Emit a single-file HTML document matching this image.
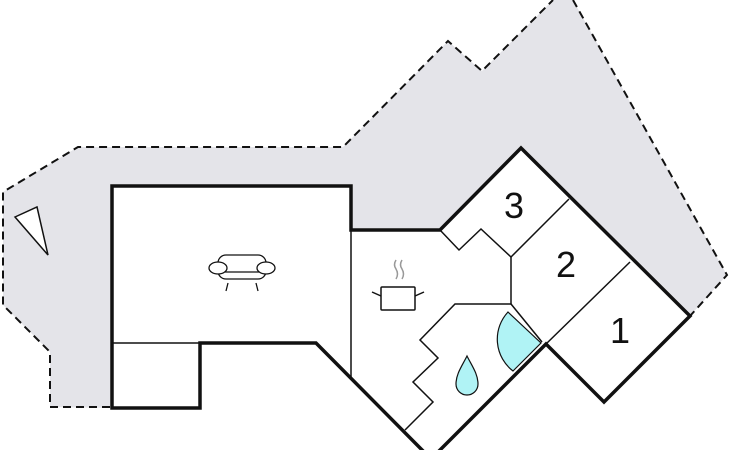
<!DOCTYPE html>
<html><head><meta charset="utf-8"><style>
html,body{margin:0;padding:0;background:#fff;width:730px;height:450px;overflow:hidden}
svg{display:block}
text{font-family:"Liberation Sans",sans-serif;font-size:36px;fill:#111}
</style></head><body>
<svg width="730" height="450" viewBox="0 0 730 450" xmlns="http://www.w3.org/2000/svg">
<polygon points="78,147 343,147 448,41 482,71 553,0 573,0 727,275 690,316 521,148 440,230 351,230 351,186 112,186 112,408 50,407 50,352 3,305 3,192" fill="#e4e4e9"/>
<polyline points="110,407 50,407 50,352 3,305 3,192 78,147 343,147 448,41 482,71 553,0" fill="none" stroke="#111" stroke-width="2" stroke-dasharray="8,5"/>
<polyline points="573,0 727,275 690,316" fill="none" stroke="#111" stroke-width="2" stroke-dasharray="8,5"/>
<polygon points="15,217 37,207 48,255" fill="#fff" stroke="#111" stroke-width="1.5"/>
<polygon points="112,186 351,186 351,230 440,230 521,148 690,316 604,402 546,344 431,459 316,343 200,343 200,408 112,408" fill="#fff"/>
<g fill="none" stroke="#111" stroke-width="1.5">
<line x1="112" y1="343" x2="200" y2="343"/>
<line x1="351" y1="230" x2="351" y2="378"/>
<polyline points="440,230 459,250 481,229 511,257 569,199"/>
<polyline points="511,257 511,304 455,304 420,340 438,358 413,382 433,402 405,430"/>
<line x1="511" y1="304" x2="542" y2="342"/>
<line x1="630" y1="262" x2="546" y2="344"/>
</g>
<path d="M508,312 L541,343 L513,371 A40,40 0 0 1 508,312 Z" fill="#b0f3f5" stroke="#111" stroke-width="1.2"/>
<path d="M467,356 C472,366 478,374 478,384 A11,11 0 0 1 456,384 C456,374 462,366 467,356 Z" fill="#b0f3f5" stroke="#111" stroke-width="1.2"/>
<g fill="none" stroke="#111" stroke-width="3.5" stroke-linejoin="miter">
<polygon points="112,186 351,186 351,230 440,230 521,148 690,316 604,402 546,344 431,459 316,343 200,343 200,408 112,408"/>
</g>
<g fill="#fff" stroke="#111" stroke-width="1.3">
<rect x="218" y="255" width="48" height="24" rx="8"/>
<ellipse cx="218" cy="268" rx="9" ry="6"/>
<ellipse cx="266" cy="268" rx="9" ry="6"/>
<line x1="225" y1="272" x2="259" y2="272"/>
<line x1="228" y1="283" x2="226" y2="291"/>
<line x1="256" y1="283" x2="258" y2="291"/>
</g>
<g fill="none" stroke="#111" stroke-width="1.5">
<rect x="381" y="287" width="34" height="23" rx="1"/>
<line x1="372" y1="292" x2="381" y2="296"/>
<line x1="424" y1="292" x2="415" y2="296"/>
</g>
<g fill="none" stroke="#999" stroke-width="1.5">
<path d="M396,260 q-3,5 0,9 q3,5 0,10"/>
<path d="M402,260 q-3,5 0,9 q3,5 0,10"/>
</g>
<text x="514" y="218" text-anchor="middle">3</text>
<text x="566" y="277" text-anchor="middle">2</text>
<text x="620" y="343" text-anchor="middle">1</text>
</svg>
</body></html>
